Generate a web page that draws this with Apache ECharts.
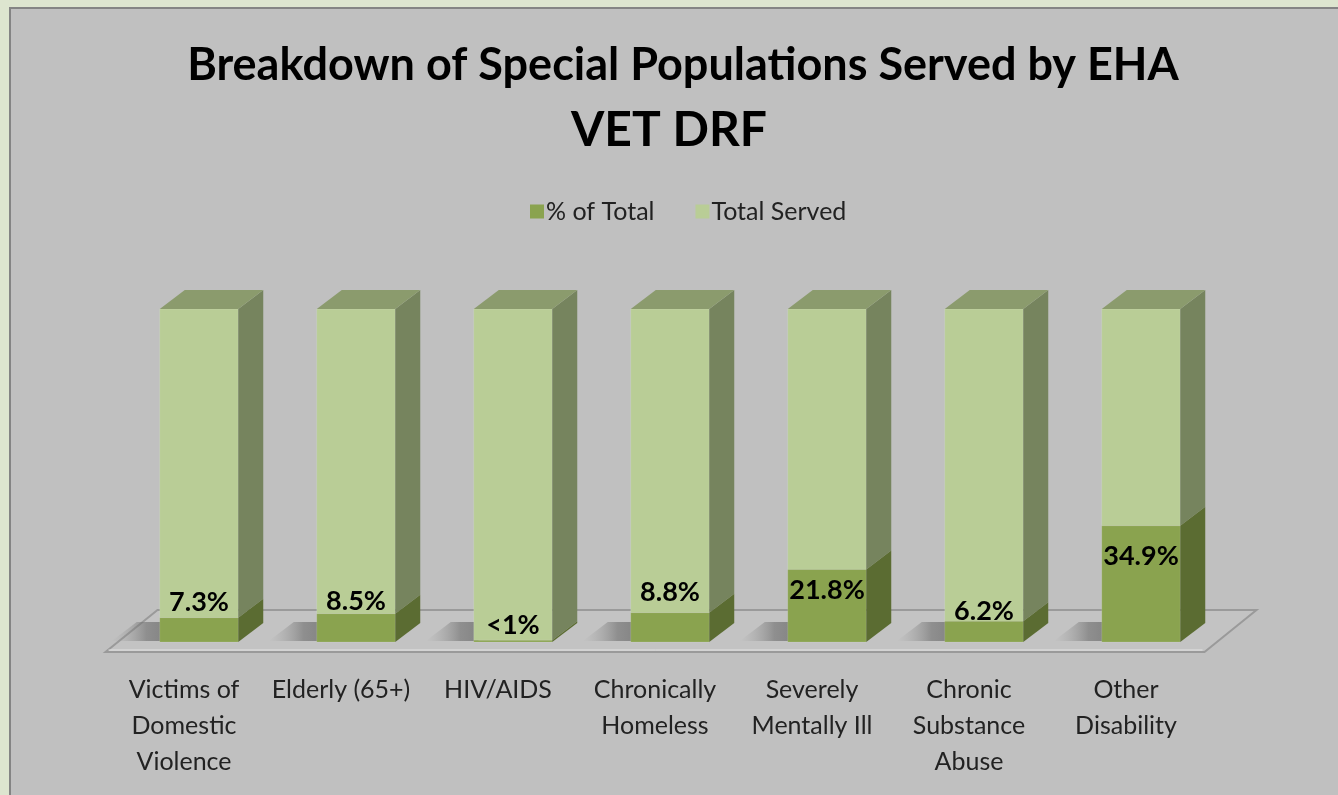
<!DOCTYPE html>
<html><head><meta charset="utf-8">
<script src="https://cdn.jsdelivr.net/npm/echarts@6/dist/echarts.min.js"></script>
<style>
html,body{margin:0;padding:0;background:#dde5cf;width:1338px;height:795px;overflow:hidden}
#frame{position:absolute;left:9px;top:7px;width:1340px;height:800px;background:#c0c0c0;border-left:2px solid #848484;border-top:2px solid #848484}
#chart{position:absolute;left:0;top:0;width:1338px;height:795px}
</style></head>
<body>
<div id="frame"></div>
<div id="chart"></div>
<script>
const categories = ['Victims of\nDomestic\nViolence', 'Elderly (65+)', 'HIV/AIDS', 'Chronically\nHomeless', 'Severely\nMentally Ill', 'Chronic\nSubstance\nAbuse', 'Other\nDisability'];
const pctOfTotal = [7.3, 8.5, 0.5, 8.8, 21.8, 6.2, 34.9];
const totalServedShare = [92.7, 91.5, 99.5, 91.2, 78.2, 93.8, 65.1];
const pctLabels = ['7.3%', '8.5%', '<1%', '8.8%', '21.8%', '6.2%', '34.9%'];
const seriesNames = ['% of Total', 'Total Served'];
const titleLines = ['Breakdown of Special Populations Served by EHA', 'VET DRF'];

// style constants
const labelNudge = [-28, -27, -16, -35, -15, -20, -28];
const C = {
  darkFront: '#8aa34f', darkSide: '#5b6c32',
  lightFront: '#b9cd96', lightSide: '#76845e', top: '#8b9b6d'
};
const DX = 25, DY = -19;
const FONT = 'Lato, "Open Sans", sans-serif';

const chart = echarts.init(document.getElementById('chart'), null, {renderer: 'canvas'});

function geom(api, i, y0, y1) {
  const base = api.coord([i, y0]);
  const top = api.coord([i, y1]);
  const bw = api.size([1, 0])[0] * 0.5;
  return {cx: base[0], x0: base[0] - bw / 2, x1: base[0] + bw / 2, bw, yb: base[1], yt: top[1]};
}

function seg(params, api, which) {
  const i = api.value(0), g = geom(api, i, api.value(1), api.value(2));
  const {cx, x0, x1, bw, yb, yt} = g;
  const front = which === 0 ? C.darkFront : C.lightFront;
  const side = which === 0 ? C.darkSide : C.lightSide;
  const children = [];
  children.push({
    type: 'rect', shape: {x: x0, y: yt, width: bw, height: yb - yt},
    style: {fill: front, stroke: 'rgba(255,255,255,0.12)', lineWidth: 1}
  });
  children.push({
    type: 'polygon',
    shape: {points: [[x1, yb], [x1 + DX, yb + DY], [x1 + DX, yt + DY], [x1, yt]]},
    style: {fill: side}
  });
  if (which === 1) {
    children.push({
      type: 'polygon',
      shape: {points: [[x0, yt], [x1, yt], [x1 + DX, yt + DY], [x0 + DX, yt + DY]]},
      style: {fill: C.top}
    });
  }
  if (which === 0) {
    children.push({
      type: 'text', z2: 100,
      style: {
        x: cx, y: (yb + yt) / 2 + labelNudge[i], text: pctLabels[i],
        align: 'center', verticalAlign: 'middle',
        font: 'bold 27px ' + FONT, fill: '#000'
      }
    });
  }
  return {type: 'group', children};
}

const option = {
  backgroundColor: 'transparent',
  animation: false,
  title: [
    {text: titleLines[0], left: 678, textAlign: 'center', top: 38,
      textStyle: {fontFamily: FONT, fontWeight: 'bold', fontSize: 45, color: '#000'}},
    {text: titleLines[1], left: 664, textAlign: 'center', top: 102,
      textStyle: {fontFamily: FONT, fontWeight: 'bold', fontSize: 48, color: '#000'}}
  ],
  legend: {
    data: seriesNames, top: 194, left: 525, itemGap: 41,
    icon: 'rect', itemWidth: 14, itemHeight: 14,
    textStyle: {fontFamily: FONT, fontSize: 25, color: '#222', padding: [0, 0, 0, -3]}
  },
  grid: {left: 120.5, right: 118.5, top: 309, bottom: 153, containLabel: false},
  xAxis: {
    type: 'category', data: categories,
    axisLine: {show: false}, axisTick: {show: false}, splitLine: {show: false},
    axisLabel: {interval: 0, margin: 30, fontFamily: FONT, fontSize: 25, lineHeight: 36, color: '#222', align: 'center', padding: [0, 30, 0, 0]}
  },
  yAxis: {type: 'value', min: 0, max: 100, show: false},
  series: [
    {
      type: 'custom', name: 'floor', z: 1, silent: true,
      data: pctOfTotal.map((v, i) => [i, 0, 0]),
      encode: {x: 0, y: 1},
      renderItem: function (params, api) {
        const i = api.value(0);
        const g = geom(api, i, 0, 0);
        const children = [];
        if (i === 0) {
          const cs = params.coordSys;
          const fx0 = cs.x - 15, fx1 = cs.x + cs.width - 15, fy = cs.y + cs.height + 10;
          const ddx = 52, ddy = -42;
          children.push({type: 'polygon', shape: {points: [[fx0, fy], [fx1, fy], [fx1 + ddx, fy + ddy], [fx0 + ddx, fy + ddy]]},
            style: {fill: '#c3c3c3', stroke: '#9a9a9a', lineWidth: 2}});
          children.push({type: 'polyline', shape: {points: [[fx0 + 3, fy - 2], [fx1 - 2, fy - 2]]},
            style: {stroke: 'rgba(235,235,235,0.8)', lineWidth: 1}});
        }
        // soft shadow on the floor to the left of each bar
        children.push({
          type: 'polygon',
          shape: {points: [[g.x0 - 48, g.yb - 1], [g.x0 + 4, g.yb - 1], [g.x0 + 4 + DX, g.yb + DY - 1], [g.x0 - 48 + DX, g.yb + DY - 1]]},
          style: {fill: new echarts.graphic.LinearGradient(0, 0, 1, 0, [
            {offset: 0, color: 'rgba(150,150,150,0)'},
            {offset: 0.45, color: 'rgba(100,100,100,0.55)'},
            {offset: 1, color: 'rgba(90,90,90,0.75)'}])}
        });
        return {type: 'group', children};
      }
    },
    {
      type: 'custom', name: seriesNames[0], z: 4,
      itemStyle: {color: C.darkFront},
      data: pctOfTotal.map((v, i) => [i, 0, v]),
      encode: {x: 0, y: 2},
      renderItem: (p, api) => seg(p, api, 0)
    },
    {
      type: 'custom', name: seriesNames[1], z: 3,
      itemStyle: {color: C.lightFront},
      data: totalServedShare.map((v, i) => [i, pctOfTotal[i], pctOfTotal[i] + v]),
      encode: {x: 0, y: 2},
      renderItem: (p, api) => seg(p, api, 1)
    }
  ]
};
chart.setOption(option);
</script>
</body></html>
